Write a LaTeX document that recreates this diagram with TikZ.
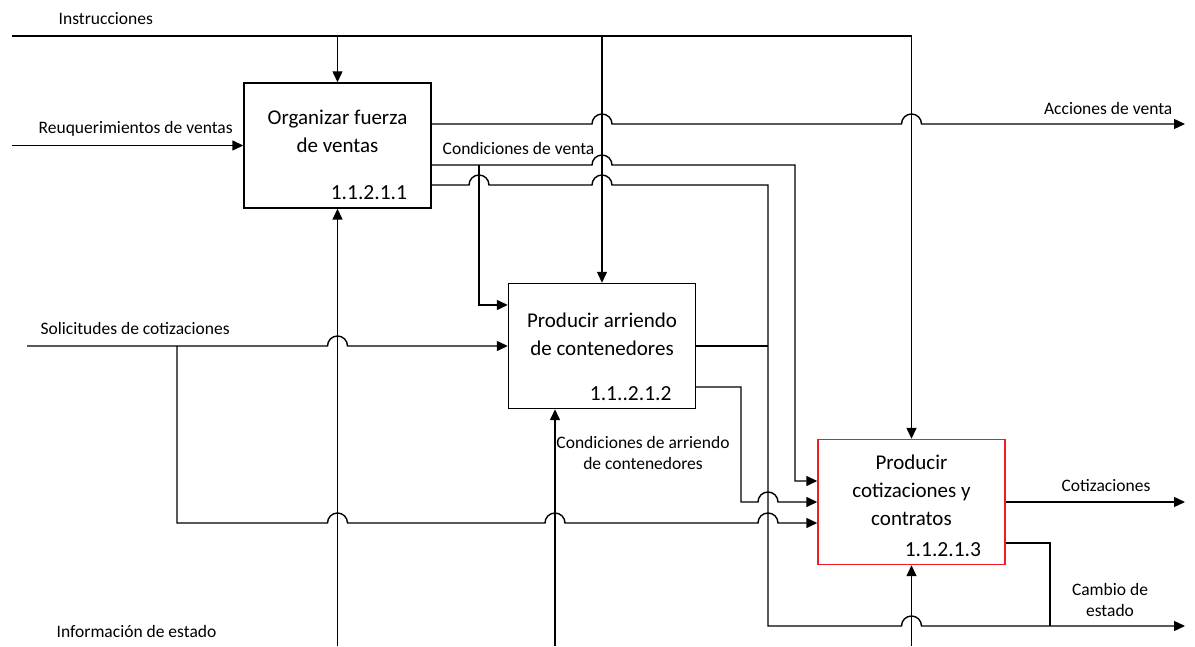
\documentclass[tikz,border=0pt]{standalone}
\usepackage{fontspec}
\setmainfont{Carlito}
\usetikzlibrary{arrows.meta}
\definecolor{boxred}{RGB}{240,30,35}
\begin{document}
\begin{tikzpicture}[x=1pt, y=1pt, line width=1.4pt, >={Triangle[length=11pt,width=10pt]},
		font=\fontsize{17.5}{21}\selectfont,
		act/.style={draw, minimum width=187pt, minimum height=125pt, inner sep=0pt},
		title/.style={align=center, font=\fontsize{21}{28}\selectfont},
		num/.style={anchor=base east, inner sep=0pt, font=\fontsize{21.5}{25}\selectfont},
		lbl/.style={anchor=base west, inner sep=0pt}]
	\useasboundingbox (0,0) rectangle (1195,646);
	% actividades
	\node[act] (b1) at (337.5,500.5) {};
	\node[act] (b2) at (602,300) {};
	\node[act, draw=boxred] (b3) at (911.5,144) {};
	\node[title] (t1) at ([yshift=14]b1.center) {Organizar fuerza\\de ventas};
	\node[title] (t2) at ([yshift=12]b2.center) {Producir arriendo\\de contenedores};
	\node[title] (t3) at ([yshift=12]b3.center) {Producir\\cotizaciones y\\contratos};
	\node[num] (n1) at ([shift={(-24,9)}]b1.south east) {1.1.2.1.1};
	\node[num] (n2) at ([shift={(-24,9)}]b2.south east) {1.1..2.1.2};
	\node[num] (n3) at ([shift={(-24,9)}]b3.south east) {1.1.2.1.3};
	% extremos libres
	\coordinate (inst) at (12,610);
	\coordinate (req) at (12,500.5);
	\coordinate (sol) at (27,300);
	\coordinate (acc) at (1185,522);
	\coordinate (cot) at (1185,144);
	\coordinate (est) at (1185,20);
	\coordinate (m1) at (337.5,0);
	\coordinate (m2) at (555,0);
	\coordinate (m3) at (911.5,0);
	% controles
	\draw[->] (inst) -| (b3.north);
	\draw[->] (b1.north |- inst) -- (b1.north);
	\draw[->] (b2.north |- inst) -- (b2.north);
	% entradas
	\draw[->] (req) -- (b1.west);
	\draw[->] (sol) -- (327.5,300) arc[start angle=180, end angle=0, radius=10] -- (b2.west);
	\draw[->] (177,300) -- (177,123) -- (327.5,123) arc[start angle=180, end angle=0, radius=10]
		-- (545,123) arc[start angle=180, end angle=0, radius=10]
		-- (758,123) arc[start angle=180, end angle=0, radius=10] -- (b3.west |- 0,123);
	% salidas de b1
	\draw[->] (b1.east |- acc) -- (592,522) arc[start angle=180, end angle=0, radius=10]
		-- (901.5,522) arc[start angle=180, end angle=0, radius=10] -- (acc);
	\draw[->] (b1.east |- 0,481) -- (592,481) arc[start angle=180, end angle=0, radius=10]
		-- (795,481) -- (795,165) -- (b3.west |- 0,165);
	\draw[->] (479,481) -- (479,341) -- (b2.west |- 0,341);
	\draw[->] (b1.east |- 0,461) -- (469,461) arc[start angle=180, end angle=0, radius=10]
		-- (592,461) arc[start angle=180, end angle=0, radius=10] -- (768,461) -- (768,20)
		-- (901.5,20) arc[start angle=180, end angle=0, radius=10] -- (est);
	% salidas de b2
	\draw (b2.east) -- (768,300);
	\draw[->] (b2.east |- 0,259) -- (741,259) -- (741,144) -- (758,144)
		arc[start angle=180, end angle=0, radius=10] -- (b3.west);
	% salidas de b3
	\draw[->] (b3.east) -- (cot);
	\draw (b3.east |- 0,103) -- (1050,103) -- (1050,20);
	% mecanismos
	\draw[->] (m1) -- (b1.south);
	\draw[->] (m2) -- (m2 |- b2.south);
	\draw[->] (m3) -- (b3.south);
	% etiquetas
	\node[lbl] (l-inst) at (58,621) {Instrucciones};
	\node[lbl] (l-req) at (38,512) {Reuquerimientos de ventas};
	\node[lbl, anchor=base east] (l-acc) at (1173,531) {Acciones de venta};
	\node[lbl] (l-cv) at (442,491) {Condiciones de venta};
	\node[lbl] (l-sol) at (40,311) {Solicitudes de cotizaciones};
	\node[lbl] (l-info) at (56,9) {Información de estado};
	\node[align=center] (l-car) at (643,193.5) {Condiciones de arriendo\\de contenedores};
	\node (l-cot) at (1106,160) {Cotizaciones};
	\node[align=center] (l-ce) at (1110,46) {Cambio de\\estado};
\end{tikzpicture}
\end{document}
